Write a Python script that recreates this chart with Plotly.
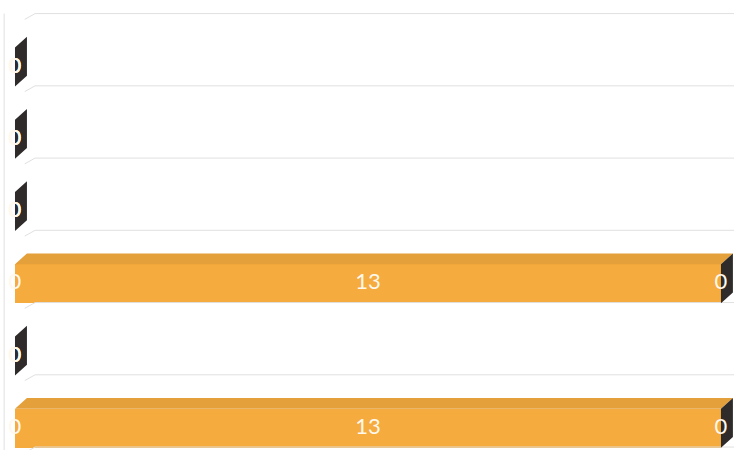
import plotly.graph_objects as go

# ---- data ----
categories = ["1", "2", "3", "4", "5", "6"]
series_lead = [0, 0, 0, 0, 0, 0]
series_orange = [0, 0, 0, 13, 0, 13]
series_dark = [0, 0, 0, 0, 0, 0]
series_names = ["Series 1", "Series 2", "Series 3"]

# ---- styling ----
front_colors = ["#F5AB3D", "#F5AB3D", "#2F2B2B"]
top_colors = ["#E4A03A", "#E4A03A", "#262222"]
side_color = "#2F2B2B"
grid_color = "#E0E0E0"
bar_w = 0.54
dx = 0.22   # depth in value units
dy = 0.15   # depth in category units
label_font = dict(family="Lato, Open Sans, sans-serif", size=22, color="#FFF8EC")

all_series = [series_lead, series_orange, series_dark]
pos = list(range(len(categories)))
x_min, x_max = -0.276, 13.24

fig = go.Figure()

# back-wall gridlines between categories
gx, gy = [], []
for k in range(len(categories) + 1):
    g = k - 0.5 - 0.24
    gx += [0.18, 0.37, x_max, None]
    gy += [g + 0.08, g, g, None]
gx += [-0.2, -0.2, None]
gy += [-0.5 - 0.24, len(categories) - 0.5, None]
fig.add_trace(go.Scatter(x=gx, y=gy, mode="lines", line=dict(color=grid_color, width=1),
                         hoverinfo="skip", showlegend=False))

# front faces (stacked bars)
for s, name, col in zip(all_series, series_names, front_colors):
    fig.add_trace(go.Bar(
        y=pos, x=s, orientation="h", width=bar_w, name=name,
        marker=dict(color=col, line=dict(width=0)), hoverinfo="skip",
    ))

# top faces (3D extrusion), derived from the data
for k, s in enumerate(all_series):
    xs, ys = [], []
    for i in pos:
        x0 = sum(all_series[j][i] for j in range(k))
        x1 = x0 + s[i]
        if s[i] <= 0:
            continue
        yt = i - bar_w / 2
        xs += [x0, x1, x1 + dx, x0 + dx, x0, None]
        ys += [yt, yt, yt - dy, yt - dy, yt, None]
    if xs:
        fig.add_trace(go.Scatter(x=xs, y=ys, mode="lines", fill="toself",
                                 fillcolor=top_colors[k], line=dict(width=0),
                                 hoverinfo="skip", showlegend=False))

# end side faces of each stack
xs, ys = [], []
for i in pos:
    xe = sum(s[i] for s in all_series)
    yt, yb = i - bar_w / 2, i + bar_w / 2
    xs += [xe, xe, xe + dx, xe + dx, xe, None]
    ys += [yt, yb, yb - dy, yt - dy, yt, None]
fig.add_trace(go.Scatter(x=xs, y=ys, mode="lines", fill="toself",
                         fillcolor=side_color, line=dict(width=0),
                         hoverinfo="skip", showlegend=False))

# data labels at segment centres
for k, s in enumerate(all_series):
    lx = [sum(all_series[j][i] for j in range(k)) + s[i] / 2 for i in pos]
    fig.add_trace(go.Scatter(x=lx, y=pos, mode="text", text=[str(v) for v in s],
                             textfont=label_font, hoverinfo="skip", showlegend=False))

fig.update_layout(
    width=734, height=450,
    margin=dict(l=0, r=0, t=0, b=0),
    barmode="stack", bargap=0,
    showlegend=False,
    plot_bgcolor="white", paper_bgcolor="white",
    xaxis=dict(range=[x_min, x_max], visible=False, fixedrange=True),
    yaxis=dict(range=[5.301, -0.928], visible=False, fixedrange=True),
)

fig.write_html("out.html", config={"displayModeBar": False},
               post_script="document.body.style.margin='0';")
